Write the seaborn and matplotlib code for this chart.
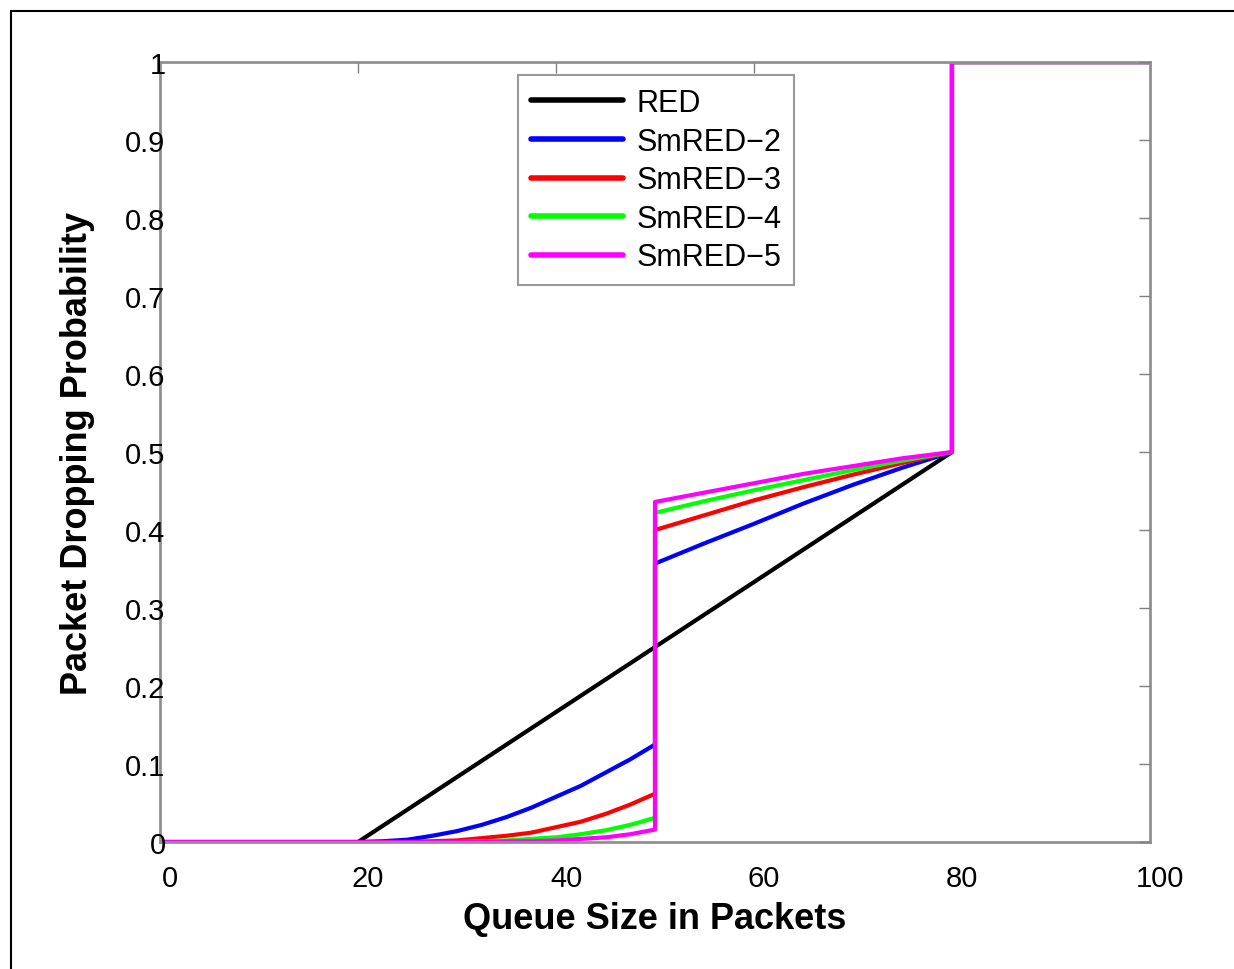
#!/usr/bin/env python3
## drop probability of RED vs SmRED-n against queue size

import matplotlib
matplotlib.use("Agg")
import matplotlib.pyplot as plt
import matplotlib.transforms as mtrans
from matplotlib.lines import Line2D
import pandas as pd
import seaborn as sns

# queue sizes (packets)
red_x = [0, 20, 80, 80, 100]
red_y = [0, 0, 0.5, 1, 1]

low_x = [20, 22.5, 25, 27.5, 30, 32.5, 35, 37.5, 40, 42.5, 45, 47.5, 50]
high_x = [50, 55, 60, 65, 70, 75, 80]

smred2_low = [0, 0.001, 0.003, 0.008, 0.014, 0.022, 0.032, 0.044, 0.058, 0.072, 0.089, 0.106, 0.125]
smred3_low = [0, 0, 0, 0.001, 0.002, 0.005, 0.008, 0.012, 0.019, 0.026, 0.036, 0.048, 0.062]
smred4_low = [0, 0, 0, 0, 0, 0.001, 0.002, 0.004, 0.006, 0.010, 0.015, 0.022, 0.031]
smred5_low = [0, 0, 0, 0, 0, 0, 0.001, 0.001, 0.002, 0.004, 0.006, 0.010, 0.016]

smred2_high = [0.357, 0.383, 0.408, 0.434, 0.458, 0.480, 0.5]
smred3_high = [0.400, 0.419, 0.438, 0.455, 0.471, 0.486, 0.5]
smred4_high = [0.422, 0.437, 0.451, 0.464, 0.477, 0.489, 0.5]
smred5_high = [0.436, 0.448, 0.460, 0.472, 0.482, 0.492, 0.5]

names = ["RED", "SmRED\u22122", "SmRED\u22123", "SmRED\u22124", "SmRED\u22125"]
colors = ["black", "blue", "red", "#00ff00", "magenta"]

rows = []
for i, (x, y) in enumerate(zip(red_x, red_y)):
    rows.append((names[0], i, x, y))
for name, lo, hi in zip(names[1:],
                        [smred2_low, smred3_low, smred4_low, smred5_low],
                        [smred2_high, smred3_high, smred4_high, smred5_high]):
    xs = [0] + low_x + high_x + [80, 100]
    ys = [0] + lo + hi + [1, 1]
    for i, (x, y) in enumerate(zip(xs, ys)):
        rows.append((name, i, x, y))
df = pd.DataFrame(rows, columns=["curve", "order", "queue", "prob"])

sns.set_style("white")
plt.rcParams["font.family"] = ["Liberation Sans", "DejaVu Sans"]
for k in ["text.color", "axes.labelcolor", "xtick.color", "ytick.color"]:
    plt.rcParams[k] = "black"

fig = plt.figure(figsize=(12.34, 9.70), dpi=100)
ax = fig.add_axes([0.1297, 0.1309, 0.8022, 0.8041])

sns.lineplot(data=df, x="queue", y="prob", hue="curve", hue_order=names,
             palette=colors, estimator=None, sort=False,
             linewidth=3, ax=ax)

ax.set_xlim(0, 100)
ax.set_ylim(0, 1)
ax.set_xticks([0, 20, 40, 60, 80, 100])
ax.set_yticks([0, 0.1, 0.2, 0.3, 0.4, 0.5, 0.6, 0.7, 0.8, 0.9, 1])
ax.set_yticklabels(["0", "0.1", "0.2", "0.3", "0.4", "0.5", "0.6", "0.7", "0.8", "0.9", "1"])
ax.tick_params(direction="in", length=8, width=1,
               top=True, right=True, labelsize=21)
ax.tick_params(axis="y", pad=-4)
ax.tick_params(axis="x", pad=16)
ax.tick_params(axis="both", color="#808080")
ax.yaxis.set_zorder(3)
shift = mtrans.ScaledTranslation(10 / 100, 0, fig.dpi_scale_trans)
for lab in ax.get_xticklabels():
    lab.set_transform(lab.get_transform() + shift)
for sp in ax.spines.values():
    sp.set_color("#909090")
    sp.set_linewidth(2)

ax.set_xlabel("Queue Size in Packets", fontsize=26, fontweight="bold", labelpad=6)
ax.set_ylabel("Packet Dropping Probability", fontsize=26, fontweight="bold", labelpad=22)

leg = ax.legend(loc="upper left", bbox_to_anchor=(0.362, 0.983), fontsize=22,
                handlelength=3.0, labelspacing=0.28, fancybox=False,
                borderpad=0.42, handletextpad=0.45, borderaxespad=0)
leg.get_frame().set_edgecolor("#808080")
leg.get_frame().set_linewidth(1.5)
for h in leg.get_lines():
    h.set_linewidth(4)

# outer frame of the picture
fig.add_artist(Line2D([0.009, 1.0], [0.988, 0.988], transform=fig.transFigure,
                      color="black", linewidth=1.5))
fig.add_artist(Line2D([0.009, 0.009], [0.0, 0.988], transform=fig.transFigure,
                      color="black", linewidth=1.5))

fig.savefig("out.png", dpi=100)
plt.close(fig)
